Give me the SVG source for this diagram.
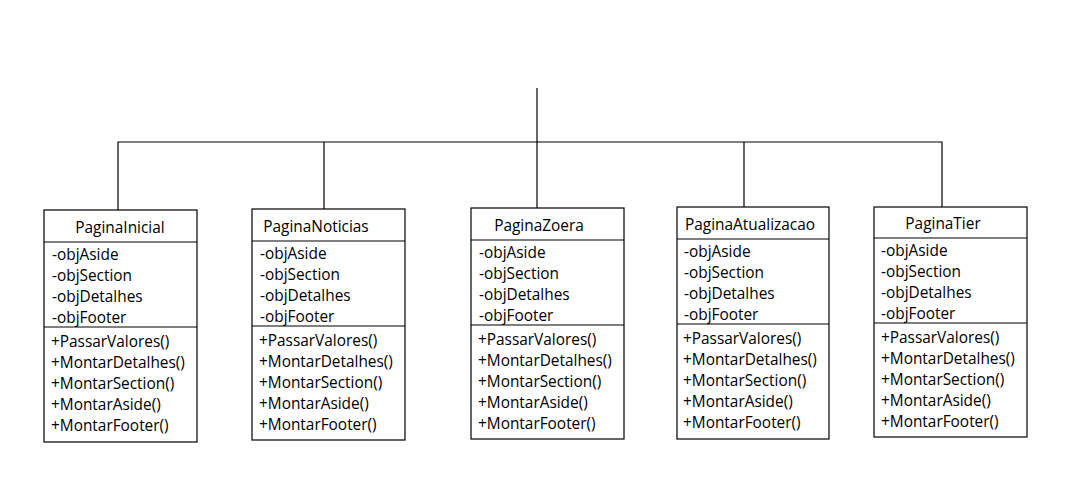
<svg xmlns="http://www.w3.org/2000/svg" width="1078" height="484" viewBox="0 0 1078 484">
<style>
.box{fill:#fff;stroke:#000;stroke-width:1.2}
.ln{stroke:#000;stroke-width:1.2;fill:none}
text{font-family:"Open Sans","Noto Sans","Liberation Sans",sans-serif;font-size:15.4px;fill:#000}
.t{text-anchor:middle}
</style>
<rect width="1078" height="484" fill="#fff"/>
<g id="connectors">
<path class="ln" d="M118,210 V142 H942 V207"/>
<path class="ln" d="M324,209 V142"/>
<path class="ln" d="M537,208 V88"/>
<path class="ln" d="M744,207 V142"/>
</g>
<g id="PaginaInicial">
<rect class="box" x="44" y="210" width="153" height="232"/>
<path class="ln" d="M44,242 H197 M44,327 H197"/>
<text class="t" x="120" y="233">PaginaInicial</text>
<text x="52" y="260">-objAside</text><text x="52" y="281">-objSection</text><text x="52" y="302">-objDetalhes</text><text x="52" y="323">-objFooter</text>
<text x="51" y="347">+PassarValores()</text><text x="51" y="368">+MontarDetalhes()</text><text x="51" y="389">+MontarSection()</text><text x="51" y="410">+MontarAside()</text><text x="51" y="431">+MontarFooter()</text>
</g>
<g id="PaginaNoticias">
<rect class="box" x="252" y="209" width="153" height="231"/>
<path class="ln" d="M252,241 H405 M252,326 H405"/>
<text class="t" x="316" y="232">PaginaNoticias</text>
<text x="260" y="259">-objAside</text><text x="260" y="280">-objSection</text><text x="260" y="301">-objDetalhes</text><text x="260" y="322">-objFooter</text>
<text x="259" y="346">+PassarValores()</text><text x="259" y="367">+MontarDetalhes()</text><text x="259" y="388">+MontarSection()</text><text x="259" y="409">+MontarAside()</text><text x="259" y="430">+MontarFooter()</text>
</g>
<g id="PaginaZoera">
<rect class="box" x="471" y="208" width="153" height="231"/>
<path class="ln" d="M471,240 H624 M471,325 H624"/>
<text class="t" x="539" y="231">PaginaZoera</text>
<text x="479" y="258">-objAside</text><text x="479" y="279">-objSection</text><text x="479" y="300">-objDetalhes</text><text x="479" y="321">-objFooter</text>
<text x="478" y="345">+PassarValores()</text><text x="478" y="366">+MontarDetalhes()</text><text x="478" y="387">+MontarSection()</text><text x="478" y="408">+MontarAside()</text><text x="478" y="429">+MontarFooter()</text>
</g>
<g id="PaginaAtualizacao">
<rect class="box" x="677" y="207" width="152" height="232"/>
<path class="ln" d="M677,239 H829 M677,324 H829"/>
<text class="t" x="750" y="230">PaginaAtualizacao</text>
<text x="684" y="257">-objAside</text><text x="684" y="278">-objSection</text><text x="684" y="299">-objDetalhes</text><text x="684" y="320">-objFooter</text>
<text x="683" y="344">+PassarValores()</text><text x="683" y="365">+MontarDetalhes()</text><text x="683" y="386">+MontarSection()</text><text x="683" y="407">+MontarAside()</text><text x="683" y="428">+MontarFooter()</text>
</g>
<g id="PaginaTier">
<rect class="box" x="874" y="207" width="153" height="230"/>
<path class="ln" d="M874,238 H1027 M874,323 H1027"/>
<text class="t" x="943" y="229">PaginaTier</text>
<text x="881" y="256">-objAside</text><text x="881" y="277">-objSection</text><text x="881" y="298">-objDetalhes</text><text x="881" y="319">-objFooter</text>
<text x="881" y="343">+PassarValores()</text><text x="881" y="364">+MontarDetalhes()</text><text x="881" y="385">+MontarSection()</text><text x="881" y="406">+MontarAside()</text><text x="881" y="427">+MontarFooter()</text>
</g>
</svg>
